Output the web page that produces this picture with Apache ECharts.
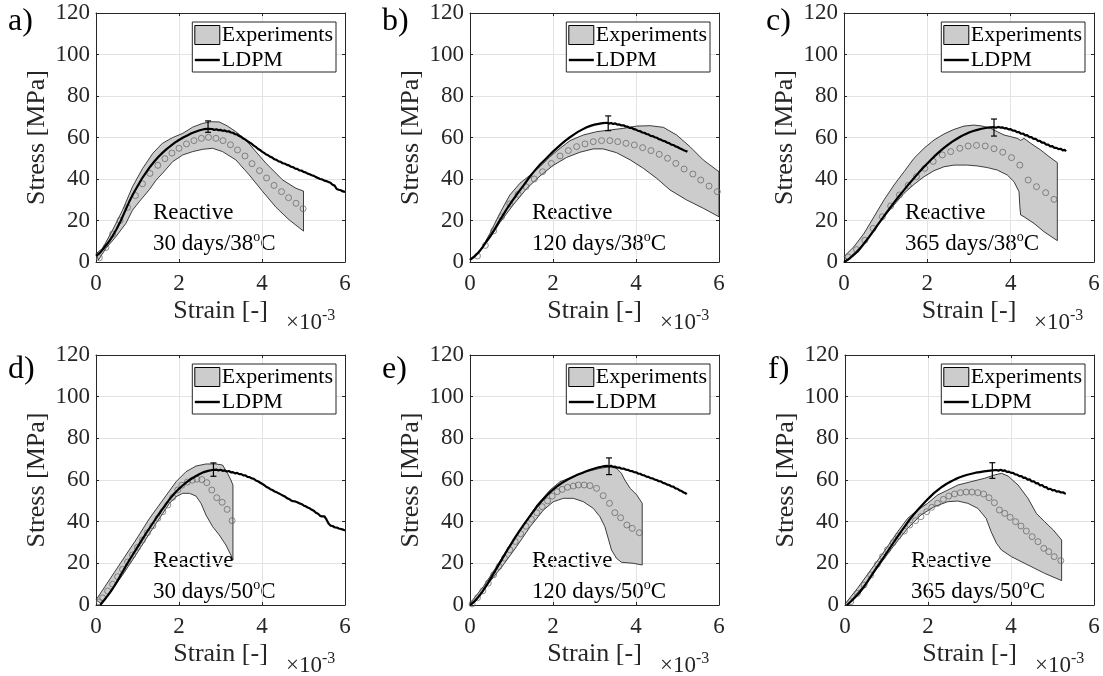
<!DOCTYPE html>
<html><head><meta charset="utf-8">
<script src="https://cdn.jsdelivr.net/npm/echarts@6/dist/echarts.min.js"></script>
<style>html,body{margin:0;padding:0;background:#fff}#c{width:1103px;height:676px}</style>
</head><body><div id="c"></div>
<script>
// ---------------- DATA (strain in 1e-3, stress in MPa) ----------------
const panelLetters = ['a)','b)','c)','d)','e)','f)'];
const conditionLine1 = ['Reactive','Reactive','Reactive','Reactive','Reactive','Reactive'];
const conditionDays = ['30 days/38','120 days/38','365 days/38','30 days/50','120 days/50','365 days/50'];
const xTickValues = [0, 2, 4, 6];
const yTickValues = [0, 20, 40, 60, 80, 100, 120];

// Experimental envelope: upper and lower bounds
const aUpper = [[0,4],[0.16,6.6],[0.4,15.4],[0.64,25],[0.88,36.3],[1.12,45],[1.37,52.4],[1.6,57.2],[1.85,60],[2.09,62],[2.33,65],[2.57,66.8],[2.77,67.6],[2.97,67.5],[3.17,65.5],[3.37,62.8],[3.61,58.8],[3.86,53],[4.1,47.5],[4.5,39.5],[4.82,35.5],[5.0,34.2]];
const aLower = [[0.06,1],[0.24,6.6],[0.48,12.2],[0.72,18.6],[0.88,25],[1.04,29],[1.29,35],[1.45,39.5],[1.6,42.7],[1.85,48.4],[2.09,51.6],[2.33,53.2],[2.57,54.3],[2.81,54.8],[3.05,53.2],[3.37,49.2],[3.69,42],[4.02,33.9],[4.34,26.3],[4.66,20.2],[5.0,14.9]];
const bUpper = [[0,1.5],[0.24,5],[0.48,13.8],[0.72,23.5],[0.96,32.3],[1.2,37.9],[1.45,41.9],[1.69,46],[1.93,50.8],[2.17,54.8],[2.41,58.5],[2.73,61.2],[3.05,62.8],[3.37,63.6],[3.69,64.4],[4.02,65.5],[4.34,65.7],[4.66,64.9],[4.98,61.2],[5.3,55.6],[5.62,49.2],[6.0,43.5]];
const bLower = [[0,1],[0.24,5.8],[0.48,11.5],[0.72,19],[1.04,27.5],[1.37,35.5],[1.69,41.5],[2.0,46.5],[2.33,50.4],[2.65,52.9],[2.97,54.5],[3.21,54.5],[3.53,52.7],[3.86,49.2],[4.18,45.1],[4.5,40.3],[4.82,34.7],[5.22,29.9],[5.62,25.9],[6.0,21.8]];
const cUpper = [[0,2.6],[0.24,7.4],[0.48,13.8],[0.72,21.8],[0.96,29.9],[1.2,37.1],[1.44,43.5],[1.68,50],[1.92,54.8],[2.16,58.8],[2.4,61.7],[2.64,63.9],[2.88,65.5],[3.12,66],[3.32,65.5],[3.52,64.4],[3.68,62.8],[3.84,61.2],[4.0,60.4],[4.16,59.6],[4.24,58.6],[4.32,59.6],[4.48,57.2],[4.72,54],[4.92,50.8],[5.12,47.9]];
const cLower = [[0.08,1],[0.24,4.2],[0.48,9],[0.72,15.4],[0.96,21.8],[1.2,27.5],[1.44,33.1],[1.68,37.4],[1.92,41.1],[2.16,44],[2.4,45.9],[2.64,46.7],[2.96,46.7],[3.2,46.3],[3.44,45.5],[3.68,44.3],[3.92,41.9],[4.08,38.7],[4.2,33.9],[4.22,26.7],[4.24,22.7],[4.32,21.8],[4.56,18.6],[4.8,14.6],[5.12,10.3]];
const dUpper = [[0,2.4],[0.32,12],[0.64,21.6],[0.96,31.2],[1.29,41.6],[1.61,50.4],[1.93,59.2],[2.17,64],[2.41,66.7],[2.65,67.7],[2.89,67.7],[3.05,67.2],[3.17,63.2],[3.25,60],[3.3,57.6]];
const dLower = [[0.12,0.8],[0.32,5.6],[0.64,14.4],[0.96,24],[1.29,34.4],[1.45,39.2],[1.61,44],[1.77,48.8],[1.93,52],[2.09,53.6],[2.25,53.6],[2.41,52.3],[2.53,48.8],[2.65,43.2],[2.81,37.6],[2.97,33.6],[3.13,28.8],[3.25,24],[3.3,21.6]];
const eUpper = [[0,0.8],[0.32,8.8],[0.64,18.4],[0.96,28.8],[1.29,38.4],[1.61,48],[1.93,55.2],[2.17,59.2],[2.49,61.6],[2.81,64],[3.13,65.6],[3.37,66.4],[3.53,65.6],[3.65,63.2],[3.73,60],[3.86,56],[4.02,52.8],[4.15,48.8]];
const eLower = [[0.04,0],[0.16,2.4],[0.48,11.2],[0.8,19.2],[1.12,28],[1.45,37.6],[1.77,45.6],[2.01,49.6],[2.25,51.2],[2.49,51.2],[2.73,49.6],[2.97,46.4],[3.13,42.4],[3.25,37.6],[3.33,32],[3.41,26.4],[3.53,22.4],[3.65,20.5],[3.94,20],[4.15,19.2]];
const fUpper = [[0,0.5],[0.3,8],[0.62,16.8],[0.94,25.6],[1.27,35.2],[1.51,41.6],[1.75,45.6],[1.99,48.8],[2.23,52.8],[2.48,55.2],[2.72,57.6],[3.04,59.2],[3.36,60.8],[3.6,62.4],[3.77,63.2],[3.93,61.9],[4.17,57.6],[4.41,51.2],[4.61,44],[4.81,40],[5.02,36],[5.22,31.2]];
const fLower = [[0.06,0],[0.22,4],[0.54,11.2],[0.86,20],[1.19,28.8],[1.51,36.8],[1.83,43.2],[2.15,47.2],[2.48,49.6],[2.72,49.9],[2.96,48.8],[3.2,46.4],[3.4,41.6],[3.52,35.2],[3.65,29.6],[3.77,26.4],[4.01,23.2],[4.41,19.2],[4.81,15.2],[5.22,11.7]];

// Experimental mean (open circles)
const aMean = [[0.08,2],[0.24,7],[0.4,13.5],[0.58,20],[0.76,26.3],[0.95,32],[1.12,37.7],[1.3,42.7],[1.49,46.6],[1.66,49.8],[1.83,52.5],[2.0,54.8],[2.18,56.9],[2.36,58.5],[2.54,59.6],[2.71,60.1],[2.89,59.6],[3.06,58.5],[3.24,56.5],[3.41,54],[3.59,51.1],[3.76,47.4],[3.94,44],[4.11,40.5],[4.29,36.9],[4.47,33.9],[4.64,31],[4.82,28.3],[4.99,25.7]];
const bMean = [[0.18,2.9],[0.37,8],[0.57,15],[0.76,21.8],[0.96,28],[1.16,32.6],[1.35,36.3],[1.55,40],[1.75,43.5],[1.96,47.5],[2.17,51.1],[2.37,53.7],[2.57,55.6],[2.77,56.9],[2.97,58],[3.17,58.5],[3.37,58.5],[3.56,58],[3.76,57.2],[3.96,56.4],[4.16,55.1],[4.36,53.7],[4.56,51.9],[4.76,50],[4.96,47.5],[5.16,44.8],[5.37,42.4],[5.56,39.5],[5.76,36.6],[5.96,33.9]];
const cMean = [[0.1,2.4],[0.3,6],[0.5,10.5],[0.7,16.2],[0.92,21.8],[1.12,27],[1.33,32.3],[1.54,36.9],[1.74,41.1],[1.94,45.1],[2.14,48.5],[2.36,51.6],[2.56,53.2],[2.78,54.8],[2.98,55.9],[3.18,56.2],[3.39,55.9],[3.6,54.6],[3.81,52.9],[4.02,50.3],[4.22,46.7],[4.42,39.5],[4.62,36.3],[4.84,33.4],[5.04,30.2]];
const dMean = [[0.08,1.5],[0.16,3.4],[0.28,6.7],[0.4,10],[0.52,13.6],[0.64,17.1],[0.76,20.6],[0.88,24],[1.0,27.7],[1.12,31.2],[1.24,34.7],[1.37,38],[1.49,41.6],[1.61,44.8],[1.73,48],[1.85,51.7],[1.97,55.2],[2.07,57.5],[2.2,59],[2.32,59.9],[2.43,60.4],[2.55,60.2],[2.67,58.7],[2.79,55.2],[2.91,51.5],[3.04,49.3],[3.16,45.9],[3.28,40.5]];
const eMean = [[0.05,0.5],[0.18,3.5],[0.31,6.8],[0.44,10.5],[0.57,14.5],[0.7,18.5],[0.83,22.5],[0.96,26.5],[1.09,30.5],[1.22,34.2],[1.35,37.8],[1.48,41.2],[1.61,44.3],[1.74,47.2],[1.87,50],[1.98,52.3],[2.1,54.4],[2.22,55.5],[2.35,56.5],[2.49,57.1],[2.61,57.6],[2.75,57.6],[2.89,57.3],[3.05,56],[3.21,52.5],[3.36,48.8],[3.49,44.3],[3.63,41.9],[3.78,38.4],[3.91,36.8],[4.08,34.7]];
const fMean = [[0.14,1.6],[0.3,5.6],[0.46,9.6],[0.62,14.4],[0.78,19.5],[0.9,23.2],[1.02,26.5],[1.16,30],[1.28,33.1],[1.43,35.5],[1.56,38.4],[1.7,40.5],[1.83,42.4],[1.97,44.8],[2.09,46.9],[2.23,48.8],[2.37,50.7],[2.5,52.3],[2.64,53.3],[2.78,53.9],[2.92,54.2],[3.06,54.2],[3.2,53.9],[3.34,53.3],[3.47,51.5],[3.6,49.1],[3.72,45.6],[3.85,44],[3.98,42.1],[4.11,40],[4.24,37.9],[4.37,35.5],[4.51,32.8],[4.65,30.4],[4.79,27.2],[4.91,25.6],[5.04,23.2],[5.2,21.3]];

// LDPM simulations
const aLDPM = [[0,3],[0.1,4.5],[0.2,7],[0.3,9.5],[0.4,12.5],[0.5,16],[0.6,20],[0.7,24.5],[0.8,29],[0.9,33],[1.0,36.5],[1.1,40],[1.2,43],[1.3,45.8],[1.4,48.3],[1.5,50.6],[1.6,52.6],[1.7,54.4],[1.8,56],[1.9,57.5],[2.0,58.8],[2.1,60],[2.2,61],[2.3,62],[2.4,62.8],[2.5,63.5],[2.6,64],[2.7,64.2],[2.8,64.1],[2.85,63.6],[2.9,64],[2.95,63.5],[3.0,63.7],[3.05,63.2],[3.1,63.4],[3.15,62.9],[3.2,63],[3.25,62.4],[3.3,62.3],[3.35,61.6],[3.4,61.5],[3.45,60.7],[3.5,60.3],[3.55,59.5],[3.6,59],[3.65,58.3],[3.7,57.6],[3.75,57],[3.8,56.1],[3.85,55.5],[3.9,54.6],[3.95,54],[4.0,53.2],[4.05,52.6],[4.1,51.8],[4.15,51.4],[4.2,50.7],[4.25,50.3],[4.3,49.5],[4.35,49.2],[4.4,48.5],[4.45,48.3],[4.5,47.6],[4.55,47.4],[4.6,46.8],[4.65,46.6],[4.7,45.9],[4.75,45.7],[4.8,45],[4.85,44.9],[4.9,44.2],[4.95,44.1],[5.0,43.4],[5.05,43.2],[5.1,42.6],[5.15,42.3],[5.2,41.8],[5.25,41.5],[5.3,40.9],[5.35,40.5],[5.4,40],[5.45,39.8],[5.5,39.2],[5.55,39],[5.6,38.6],[5.65,38.2],[5.7,37.2],[5.75,36.8],[5.8,35.2],[5.85,34.8],[5.9,34.6],[5.95,34],[6.0,33.8]];
const bLDPM = [[0,1],[0.1,2.5],[0.2,4.5],[0.3,7],[0.4,10],[0.5,12.8],[0.6,16],[0.7,19.5],[0.8,22.7],[0.9,26],[1.0,29],[1.1,31.8],[1.2,34.5],[1.3,37.2],[1.4,40],[1.5,42.6],[1.6,45],[1.7,47.2],[1.8,49.2],[1.9,51.2],[2.0,53.2],[2.1,55],[2.2,56.8],[2.3,58.5],[2.4,60],[2.5,61.4],[2.6,62.7],[2.7,63.8],[2.8,64.8],[2.9,65.6],[3.0,66.2],[3.1,66.6],[3.2,66.9],[3.3,67.1],[3.35,66.7],[3.4,67],[3.45,66.5],[3.5,66.8],[3.55,66.2],[3.6,66.3],[3.65,65.8],[3.7,65.9],[3.75,65.3],[3.8,65.2],[3.85,64.6],[3.9,64.6],[3.95,64],[4.0,63.8],[4.05,63.2],[4.1,63.1],[4.15,62.4],[4.2,62.3],[4.25,61.7],[4.3,61.5],[4.35,60.8],[4.4,60.7],[4.45,60.1],[4.5,59.9],[4.55,59.2],[4.6,59],[4.65,58.4],[4.7,58.2],[4.75,57.5],[4.8,57.3],[4.85,56.6],[4.9,56.4],[4.95,55.7],[5.0,55.4],[5.05,54.8],[5.1,54.4],[5.15,53.9],[5.2,53.5],[5.24,53.1]];
const cLDPM = [[0,0],[0.1,1.2],[0.2,2.8],[0.3,4.6],[0.4,6.8],[0.5,9.4],[0.6,12],[0.7,14.8],[0.8,17.6],[0.9,20.4],[1.0,23.2],[1.1,26],[1.2,28.6],[1.3,31.2],[1.4,33.7],[1.5,36.2],[1.6,38.6],[1.7,40.9],[1.8,43.2],[1.9,45.4],[2.0,47.5],[2.1,49.5],[2.2,51.5],[2.3,53.3],[2.4,55],[2.5,56.6],[2.6,58],[2.7,59.3],[2.8,60.5],[2.9,61.5],[3.0,62.4],[3.1,63.1],[3.2,63.7],[3.3,64.2],[3.4,64.6],[3.5,64.9],[3.6,65],[3.65,64.7],[3.7,65.1],[3.75,64.8],[3.8,64.9],[3.85,64.4],[3.9,64.5],[3.95,63.9],[4.0,64],[4.05,63.3],[4.1,63.3],[4.15,62.6],[4.2,62.6],[4.25,61.8],[4.3,61.9],[4.35,61],[4.4,61.1],[4.45,60.2],[4.5,60.2],[4.55,59.3],[4.6,59.4],[4.65,58.4],[4.7,58.4],[4.75,57.5],[4.8,57.5],[4.85,56.6],[4.9,56.6],[4.95,55.7],[5.0,55.8],[5.05,55],[5.1,55],[5.15,54.4],[5.2,54.6],[5.25,53.8],[5.3,54],[5.33,53.4]];
const dLDPM = [[0.1,0],[0.2,2.4],[0.3,5],[0.4,7.8],[0.5,11],[0.6,14.5],[0.7,18],[0.8,21.4],[0.9,24.6],[1.0,27.8],[1.1,31],[1.2,34.2],[1.3,37.2],[1.4,40.2],[1.5,43.2],[1.6,46],[1.7,48.8],[1.8,51.5],[1.9,53.8],[2.0,55.8],[2.1,57.6],[2.2,59.2],[2.3,60.6],[2.4,61.8],[2.5,62.9],[2.6,63.8],[2.7,64.4],[2.8,64.8],[2.9,65],[2.95,64.6],[3.0,64.9],[3.05,64.4],[3.1,64.6],[3.15,64.1],[3.2,64.3],[3.25,63.7],[3.3,63.8],[3.35,63.2],[3.4,63.4],[3.45,62.8],[3.5,62.8],[3.55,62.2],[3.6,62.2],[3.65,61.5],[3.7,61.4],[3.75,60.8],[3.8,60.6],[3.85,59.8],[3.9,59.4],[3.95,58.8],[4.0,58.2],[4.05,57.6],[4.1,56.8],[4.15,56.3],[4.2,55.6],[4.25,55.2],[4.3,54.5],[4.35,54.2],[4.4,53.6],[4.45,53.1],[4.5,52.6],[4.55,52.1],[4.6,51.3],[4.65,50.9],[4.7,50.2],[4.75,49.8],[4.8,49.7],[4.85,49.3],[4.9,48.8],[4.95,48.5],[5.0,47.8],[5.05,47.4],[5.1,46.8],[5.15,46.4],[5.2,45.7],[5.25,45.2],[5.3,44.3],[5.35,43.8],[5.4,42.8],[5.45,42.5],[5.5,42.6],[5.55,41.2],[5.6,39.2],[5.65,38.1],[5.7,37.9],[5.75,37.3],[5.8,37.2],[5.85,36.7],[5.9,36.5],[5.95,36.2],[6.0,35.8]];
const eLDPM = [[0,0],[0.1,1.6],[0.2,3.8],[0.3,6.4],[0.4,9.5],[0.5,12.8],[0.6,16.2],[0.7,19.6],[0.8,23],[0.9,26.4],[1.0,29.6],[1.1,32.8],[1.2,35.8],[1.3,38.7],[1.4,41.5],[1.5,44.2],[1.6,46.9],[1.7,49.3],[1.8,51.5],[1.9,53.6],[2.0,55.4],[2.1,57],[2.2,58.4],[2.3,59.6],[2.4,60.7],[2.5,61.7],[2.6,62.6],[2.7,63.4],[2.8,64.2],[2.9,64.9],[3.0,65.5],[3.1,66.1],[3.2,66.5],[3.3,66.8],[3.35,66.5],[3.4,66.8],[3.45,66.3],[3.5,66.4],[3.55,65.9],[3.6,66],[3.65,65.4],[3.7,65.5],[3.75,65],[3.8,64.9],[3.85,64.4],[3.9,64.3],[3.95,63.8],[4.0,63.7],[4.05,63.1],[4.1,63],[4.15,62.4],[4.2,62.2],[4.25,61.6],[4.3,61.5],[4.35,60.9],[4.4,60.8],[4.45,60.2],[4.5,60],[4.55,59.4],[4.6,59.3],[4.65,58.6],[4.7,58.4],[4.75,57.8],[4.8,57.6],[4.85,56.9],[4.9,56.8],[4.95,56],[5.0,55.8],[5.05,55],[5.1,54.7],[5.15,54],[5.2,53.6],[5.22,53.1]];
const fLDPM = [[0.05,0],[0.15,1.8],[0.25,3.8],[0.35,6],[0.45,8.5],[0.55,11.5],[0.65,14.6],[0.75,17.6],[0.85,20.5],[0.95,23.4],[1.05,26.4],[1.15,29.4],[1.25,32.3],[1.35,35.2],[1.45,38],[1.55,40.8],[1.65,43.3],[1.75,45.6],[1.85,47.8],[1.95,49.9],[2.05,51.9],[2.15,53.8],[2.25,55.4],[2.35,56.9],[2.45,58.2],[2.55,59.3],[2.65,60.3],[2.75,61.2],[2.85,61.9],[2.95,62.5],[3.05,63],[3.15,63.5],[3.25,63.8],[3.35,64.1],[3.45,64.4],[3.55,64.6],[3.65,64.8],[3.7,64.5],[3.75,64.9],[3.8,64.4],[3.85,64.6],[3.9,63.9],[3.95,64],[4.0,63.4],[4.05,63.4],[4.1,62.7],[4.15,62.6],[4.2,61.9],[4.25,61.9],[4.3,61],[4.35,61.1],[4.4,60.2],[4.45,60.3],[4.5,59.3],[4.55,59.4],[4.6,58.4],[4.65,58.5],[4.7,57.4],[4.75,57.6],[4.8,56.6],[4.85,56.6],[4.9,55.6],[4.95,55.8],[5.0,55],[5.05,55.2],[5.1,54.4],[5.15,54.6],[5.2,54],[5.25,54.1],[5.3,53.5],[5.32,53.7]];

// Peak error bars: [strain, low, high]
const aErr = [2.7, 62.5, 68];
const bErr = [3.33, 63.3, 70.4];
const cErr = [3.6, 60.7, 68.9];
const dErr = [2.83, 61.8, 68.2];
const eErr = [3.35, 62.6, 70.6];
const fErr = [3.55, 60.8, 68.3];

// ---------------- LAYOUT ----------------
const W = 1103;
const grids = [
  {left:96, top:13, width:249, height:249},
  {left:470, top:13, width:249, height:249},
  {left:844, top:13, width:250, height:249},
  {left:96, top:355, width:249, height:250},
  {left:470, top:355, width:249, height:250},
  {left:845, top:355, width:249, height:250}
];
const letterX = [8, 382, 766, 8, 382, 768];
const noteDx = [57, 62, 61, 57, 62, 66];

const panels = [
  {upper:aUpper, lower:aLower, mean:aMean, ldpm:aLDPM, err:aErr},
  {upper:bUpper, lower:bLower, mean:bMean, ldpm:bLDPM, err:bErr},
  {upper:cUpper, lower:cLower, mean:cMean, ldpm:cLDPM, err:cErr},
  {upper:dUpper, lower:dLower, mean:dMean, ldpm:dLDPM, err:dErr},
  {upper:eUpper, lower:eLower, mean:eMean, ldpm:eLDPM, err:eErr},
  {upper:fUpper, lower:fLower, mean:fMean, ldpm:fLDPM, err:fErr}
];

const FONT = '"Liberation Serif", "Times New Roman", serif';
const AX = '#262626';

const option = {
  backgroundColor: '#fff',
  animation: false,
  grid: [], xAxis: [], yAxis: [], series: [], legend: [], graphic: []
};

grids.forEach((g, i) => {
  option.grid.push({left:g.left, top:g.top, width:g.width, height:g.height, containLabel:false});
  option.xAxis.push({
    type:'value', gridIndex:i, min:0, max:6, interval:2, position:'bottom',
    name:'Strain [-]', nameLocation:'middle', nameGap:36,
    nameTextStyle:{fontFamily:FONT, fontSize:26, color:AX},
    axisLine:{onZero:false, lineStyle:{color:AX, width:1}},
    axisTick:{inside:true, length:3, lineStyle:{color:AX}},
    axisLabel:{fontFamily:FONT, fontSize:23, color:AX, margin:10,
      formatter: v => xTickValues.includes(v) ? String(v) : ''},
    splitLine:{show:true, lineStyle:{color:'#e3e3e3', width:1}}
  });
  option.xAxis.push({
    type:'value', gridIndex:i, min:0, max:6, interval:2, position:'top',
    axisLine:{onZero:false, lineStyle:{color:AX, width:1}},
    axisTick:{inside:true, length:3, lineStyle:{color:AX}},
    axisLabel:{show:false}, splitLine:{show:false}
  });
  option.yAxis.push({
    type:'value', gridIndex:i, min:0, max:120, interval:20, position:'left',
    name:'Stress [MPa]', nameLocation:'middle', nameGap:46,
    nameTextStyle:{fontFamily:FONT, fontSize:26, color:AX},
    axisLine:{show:true, onZero:false, lineStyle:{color:AX, width:1}},
    axisTick:{show:true, inside:true, length:3, lineStyle:{color:AX}},
    axisLabel:{fontFamily:FONT, fontSize:23, color:AX, margin:6,
      formatter: v => yTickValues.includes(v) ? String(v) : ''},
    splitLine:{show:true, lineStyle:{color:'#e3e3e3', width:1}}
  });
  option.yAxis.push({
    type:'value', gridIndex:i, min:0, max:120, interval:20, position:'right',
    axisLine:{show:true, onZero:false, lineStyle:{color:AX, width:1}},
    axisTick:{show:true, inside:true, length:3, lineStyle:{color:AX}},
    axisLabel:{show:false}, splitLine:{show:false}
  });

  const p = panels[i];
  const xi = i*2, yi = i*2;
  option.series.push({
    type:'custom', name:'Experiments', xAxisIndex:xi, yAxisIndex:yi, z:2,
    data:[[0,0]],
    itemStyle:{color:'#cccccc'},
    renderItem:(params, api) => {
      const pts = p.upper.map(q => api.coord(q))
        .concat(p.lower.slice().reverse().map(q => api.coord(q)));
      return {type:'polygon', shape:{points:pts},
        style:{fill:'#cccccc', stroke:'#111', lineWidth:0.8}};
    }
  });
  option.series.push({
    type:'scatter', name:'Mean', xAxisIndex:xi, yAxisIndex:yi, z:3,
    data:p.mean, symbol:'circle', symbolSize:6,
    itemStyle:{color:'rgba(0,0,0,0)', borderColor:'#626262', borderWidth:0.9}
  });
  option.series.push({
    type:'line', name:'LDPM', xAxisIndex:xi, yAxisIndex:yi, z:4,
    data:p.ldpm, symbol:'none', showSymbol:false,
    lineStyle:{color:'#000', width:2.2}, itemStyle:{color:'#000'}
  });
  option.series.push({
    type:'custom', name:'err', xAxisIndex:xi, yAxisIndex:yi, z:5,
    data:[p.err], encode:{x:0, y:[1,2]},
    renderItem:(params, api) => {
      const x = api.value(0);
      const lo = api.coord([x, api.value(1)]);
      const hi = api.coord([x, api.value(2)]);
      const st = {stroke:'#000', lineWidth:1.2};
      return {type:'group', children:[
        {type:'line', shape:{x1:lo[0], y1:lo[1], x2:hi[0], y2:hi[1]}, style:st},
        {type:'line', shape:{x1:lo[0]-3, y1:lo[1], x2:lo[0]+3, y2:lo[1]}, style:st},
        {type:'line', shape:{x1:hi[0]-3, y1:hi[1], x2:hi[0]+3, y2:hi[1]}, style:st}
      ]};
    }
  });

  option.legend.push({
    orient:'vertical', right: W - (g.left + g.width) + 9, top: g.top + 9,
    itemWidth:25, itemHeight:19, itemGap:3, padding:[2,3,1,2],
    symbolKeepAspect:true,
    backgroundColor:'#fff', borderColor:AX, borderWidth:1, borderRadius:0,
    selectedMode:false,
    textStyle:{fontFamily:FONT, fontSize:22, color:'#000', padding:[0,0,0,-3]},
    data:[
      {name:'Experiments', icon:'rect', itemStyle:{color:'#cccccc', borderColor:'#000', borderWidth:1}},
      {name:'LDPM', icon:'path://M0,0 L25,0 L25,2.4 L0,2.4 Z', itemStyle:{color:'#000', borderWidth:0}}
    ]
  });

  option.graphic.push({type:'text', left:letterX[i], top:(i < 3 ? 23 : 371) - 17,
    style:{text:panelLetters[i], font:'32px ' + FONT, fill:'#000'}});
  option.graphic.push({type:'text', left:g.left + noteDx[i], top:g.top + (i < 3 ? 204 : 210) - 15.5,
    style:{text:'{n|' + conditionLine1[i] + '}\n{n|' + conditionDays[i] + '}{s|o}{n|C}',
      rich:{n:{fontFamily:FONT, fontSize:23, lineHeight:31, fill:'#000'},
            s:{fontFamily:FONT, fontSize:14, verticalAlign:'top', padding:[2,0,0,0], fill:'#000'}}}});
  option.graphic.push({type:'text', left:g.left + 190, top:g.top + g.height + 61 - 15,
    style:{text:'{n|\u00d710}{s|-3}',
      rich:{n:{fontFamily:FONT, fontSize:23, lineHeight:30, fill:AX},
            s:{fontFamily:FONT, fontSize:16, verticalAlign:'top', fill:AX}}}});
});

const chart = echarts.init(document.getElementById('c'), null, {renderer:'canvas'});
chart.setOption(option);
</script>
</body></html>
